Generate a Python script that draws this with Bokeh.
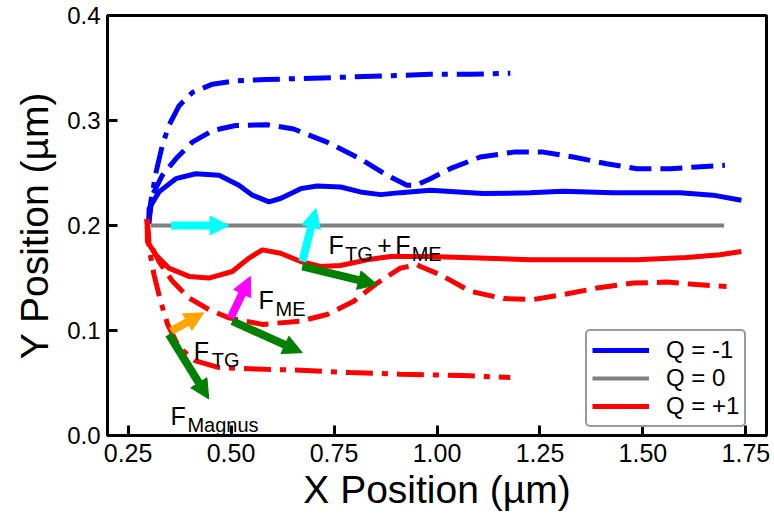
from bokeh.plotting import figure
from bokeh.models import (Range1d, FixedTicker, NumeralTickFormatter, Arrow,
                          NormalHead, Label, Legend, LegendItem)
from bokeh.embed import file_html
from bokeh.resources import INLINE

FONT = "Liberation Sans"

# ---- skyrmion trajectories, Q = -1 (blue) ----
neg_solid_x = [0.300, 0.301, 0.325, 0.366, 0.414, 0.471, 0.519, 0.552, 0.592, 0.620,
               0.669, 0.709, 0.766, 0.814, 0.863, 0.911, 0.984, 1.112, 1.226, 1.306,
               1.427, 1.590, 1.670, 1.739]
neg_solid_y = [0.2017, 0.2162, 0.2320, 0.2446, 0.2493, 0.2478, 0.2383, 0.2289, 0.2225, 0.2257,
               0.2351, 0.2377, 0.2367, 0.2320, 0.2294, 0.2313, 0.2336, 0.2304, 0.2311, 0.2327,
               0.2313, 0.2313, 0.2289, 0.2241]

neg_dash_x = [0.300, 0.309, 0.333, 0.366, 0.406, 0.455, 0.511, 0.588, 0.652, 0.733,
              0.814, 0.879, 0.927, 0.950, 0.984, 1.032, 1.105, 1.186, 1.258, 1.331,
              1.412, 1.485, 1.566, 1.630, 1.699]
neg_dash_y = [0.2017, 0.2289, 0.2478, 0.2635, 0.2794, 0.2904, 0.2952, 0.2960, 0.2919, 0.2794,
              0.2635, 0.2478, 0.2384, 0.2385, 0.2446, 0.2541, 0.2652, 0.2699, 0.2699, 0.2652,
              0.2588, 0.2541, 0.2541, 0.2557, 0.2573]

neg_dashdot_x = [0.300, 0.305, 0.318, 0.333, 0.349, 0.374, 0.406, 0.455, 0.511, 0.584,
                 0.749, 0.871, 0.984, 1.081, 1.178]
neg_dashdot_y = [0.2017, 0.2225, 0.2509, 0.2762, 0.2952, 0.3141, 0.3267, 0.3346, 0.3378, 0.3390,
                 0.3409, 0.3425, 0.3440, 0.3440, 0.3450]

# ---- Q = 0 (gray) ----
zero_x = [0.305, 1.697]
zero_y = [0.200, 0.200]

# ---- Q = +1 (red) ----
pos_solid_x = [0.296, 0.297, 0.317, 0.349, 0.398, 0.446, 0.503, 0.543, 0.576, 0.620,
               0.669, 0.717, 0.766, 0.830, 0.887, 0.984, 1.121, 1.226, 1.364, 1.485,
               1.606, 1.687, 1.739]
pos_solid_y = [0.2060, 0.1847, 0.1721, 0.1594, 0.1515, 0.1499, 0.1562, 0.1688, 0.1768, 0.1736,
               0.1657, 0.1610, 0.1619, 0.1673, 0.1705, 0.1705, 0.1688, 0.1673, 0.1673, 0.1673,
               0.1695, 0.1721, 0.1752]

pos_dash_x = [0.296, 0.301, 0.325, 0.358, 0.398, 0.446, 0.495, 0.576, 0.669, 0.733,
              0.798, 0.855, 0.911, 0.952, 0.960, 1.008, 1.081, 1.162, 1.234, 1.307,
              1.388, 1.477, 1.558, 1.630, 1.703]
pos_dash_y = [0.2060, 0.1847, 0.1657, 0.1468, 0.1310, 0.1200, 0.1120, 0.1058, 0.1089, 0.1152,
              0.1278, 0.1452, 0.1594, 0.1626, 0.1610, 0.1531, 0.1373, 0.1304, 0.1295, 0.1342,
              0.1404, 0.1452, 0.1461, 0.1437, 0.1420]

pos_dashdot_x = [0.296, 0.301, 0.313, 0.329, 0.346, 0.374, 0.414, 0.471, 0.584, 0.669,
                 0.790, 0.911, 0.984, 1.081, 1.178]
pos_dashdot_y = [0.2060, 0.1783, 0.1531, 0.1278, 0.1058, 0.0836, 0.0710, 0.0647, 0.0630, 0.0622,
                 0.0599, 0.0584, 0.0578, 0.0568, 0.0552]

# ---- force vectors: tail (x0, y0) -> tip (x1, y1) ----
force_x0 = [0.354, 0.673, 0.673, 0.499, 0.503, 0.354, 0.349]
force_y0 = [0.2000, 0.1657, 0.1610, 0.1120, 0.1089, 0.0994, 0.0963]
force_x1 = [0.495, 0.706, 0.855, 0.547, 0.673, 0.434, 0.446]
force_y1 = [0.2000, 0.2162, 0.1437, 0.1515, 0.0789, 0.1168, 0.0348]
force_colors = ["#00FFFF", "#00FFFF", "#008000", "#FF00FF", "#008000", "#FFA500", "#008000"]

x_ticks = [0.25, 0.50, 0.75, 1.00, 1.25, 1.50, 1.75]
y_ticks = [0.0, 0.1, 0.2, 0.3, 0.4]
legend_labels = ["Q = -1", "Q = 0", "Q = +1"]

BLUE, GRAY, RED = "#0000FF", "#808080", "#FF0000"
LW = 5
DASH = "22 9"
DASHDOT = "27 9 6 9"

p = figure(width=774, height=526, x_range=Range1d(0.2, 1.8), y_range=Range1d(0.0, 0.4),
           output_backend="svg", toolbar_location=None,
           min_border_left=107, min_border_right=8, min_border_top=15, min_border_bottom=91)
p.background_fill_color = "white"
p.border_fill_color = "white"
p.grid.visible = False
p.outline_line_color = "black"
p.outline_line_width = 3

r_neg = p.line(neg_solid_x, neg_solid_y, line_color=BLUE, line_width=LW)
p.line(neg_dash_x, neg_dash_y, line_color=BLUE, line_width=LW, line_dash=DASH)
p.line(neg_dashdot_x, neg_dashdot_y, line_color=BLUE, line_width=LW, line_dash=DASHDOT)
r_zero = p.line(zero_x, zero_y, line_color=GRAY, line_width=4)
p.line(pos_dash_x, pos_dash_y, line_color=RED, line_width=LW, line_dash=DASH)
p.line(pos_dashdot_x, pos_dashdot_y, line_color=RED, line_width=LW, line_dash=DASHDOT)
r_pos = p.line(pos_solid_x, pos_solid_y, line_color=RED, line_width=LW)

for x0, y0, x1, y1, c in zip(force_x0, force_y0, force_x1, force_y1, force_colors):
    head = NormalHead(size=19, fill_color=c, line_color=c, line_width=1)
    p.add_layout(Arrow(end=head, x_start=x0, y_start=y0, x_end=x1, y_end=y1,
                       line_color=c, line_width=8))

# force labels: main letter plus a lowered, smaller subscript
label_specs = [
    (0.7366, 0.1815, [("F", 0, False), ("TG", 16.6, True), ("+", 48.8, False),
                      ("F", 66.7, False), ("ME", 83.2, True)]),
    (0.5669, 0.1295, [("F", 0, False), ("ME", 17, True)]),
    (0.4093, 0.0805, [("F", 0, False), ("TG", 18, True)]),
    (0.3528, 0.0189, [("F", 0, False), ("Magnus", 17, True)]),
]
for lx, ly, pieces in label_specs:
    for txt, dx, sub in pieces:
        p.add_layout(Label(x=lx, y=ly, x_offset=dx, y_offset=-9 if sub else 0, text=txt,
                           text_font=FONT, text_font_size="20px" if sub else "25px",
                           text_color="black", text_baseline="alphabetic",
                           text_align="left"))

for ax in (p.xaxis[0], p.yaxis[0]):
    ax.axis_line_color = "black"
    ax.axis_line_width = 3
    ax.major_tick_line_color = "black"
    ax.major_tick_line_width = 3
    ax.major_tick_in = 10
    ax.major_tick_out = 0
    ax.minor_tick_line_color = None
    ax.major_label_text_font = FONT
    ax.major_label_text_color = "black"
    ax.axis_label_text_font = FONT
    ax.axis_label_text_font_size = "39px"
    ax.axis_label_text_font_style = "normal"
    ax.axis_label_text_color = "black"

p.xaxis.major_label_text_font_size = "25px"
p.yaxis.major_label_text_font_size = "24px"
p.xaxis.ticker = FixedTicker(ticks=x_ticks)
p.yaxis.ticker = FixedTicker(ticks=y_ticks)
p.xaxis.formatter = NumeralTickFormatter(format="0.00")
p.yaxis.formatter = NumeralTickFormatter(format="0.0")
p.xaxis.axis_label = "X Position (µm)"
p.yaxis.axis_label = "Y Position (µm)"
p.xaxis.major_label_standoff = 8
p.yaxis.major_label_standoff = 7
p.xaxis.axis_label_standoff = 3
p.yaxis.axis_label_standoff = 8

legend = Legend(items=[LegendItem(label=legend_labels[0], renderers=[r_neg]),
                       LegendItem(label=legend_labels[1], renderers=[r_zero]),
                       LegendItem(label=legend_labels[2], renderers=[r_pos])],
                location=(478, 8))
legend.label_text_font = FONT
legend.label_text_font_size = "24px"
legend.label_text_color = "black"
legend.glyph_width = 57
legend.glyph_height = 20
legend.label_height = 20
legend.label_standoff = 17
legend.padding = 5
legend.spacing = -3
legend.margin = 0
legend.border_line_color = "#333333"
legend.border_line_width = 2
legend.background_fill_color = "white"
legend.background_fill_alpha = 1.0
if "border_radius" in legend.properties():
    legend.border_radius = 5
p.add_layout(legend, "center")

open("out.html", "w").write(file_html(p, INLINE))
